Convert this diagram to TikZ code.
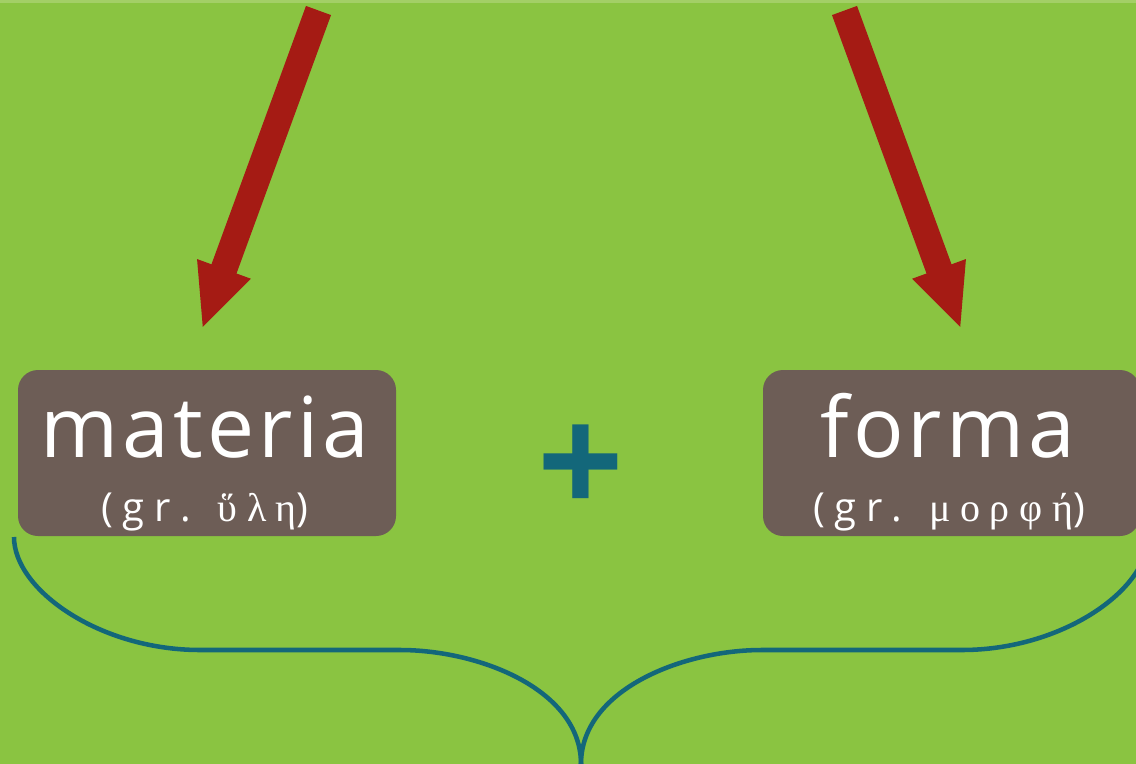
\documentclass[tikz,border=0pt]{standalone}
\usepackage{fontspec}
\setmainfont{Open Sans}
\newfontfamily\wordfont[LetterSpace=5]{Open Sans}
\newfontfamily\notefont[LetterSpace=24]{Open Sans}
\newfontfamily\greekfont[Script=Greek,LetterSpace=24]{Liberation Serif}
\usetikzlibrary{arrows.meta}

\definecolor{leaf}{HTML}{8AC441}
\definecolor{leaftop}{HTML}{A3CF66}
\definecolor{rust}{HTML}{A51B14}
\definecolor{bark}{HTML}{6D5D56}
\definecolor{petrol}{HTML}{13677A}

\begin{document}
\begin{tikzpicture}[x=0.75pt,y=-0.75pt,
 word box/.style={rectangle,rounded corners=15pt,fill=bark,inner sep=0pt,
  minimum width=283.5pt,minimum height=124.5pt},
 word/.style={text=white,inner sep=0pt,font=\wordfont\fontsize{63}{63}\selectfont},
 note/.style={text=white,inner sep=0pt,font=\notefont\fontsize{30}{30}\selectfont},
 plus sign/.style={text=petrol,inner sep=0pt,font=\bfseries\fontsize{114}{114}\selectfont},
 fat arrow/.style={draw=rust,line width=20pt,-{Triangle[length=48pt,width=39pt]}},
 brace line/.style={draw=petrol,line width=3.4pt}]

  \useasboundingbox (0,0) rectangle (1136,764);
  \fill[leaf] (0,0) rectangle (1136,764);
  \fill[leaftop] (0,0) rectangle (1136,3);

  % the two boxes
  \node[word box] (materia) at (207,453) {};
  \node[word box,minimum width=282.75pt] (forma) at (951.5,453) {};
  \node[word,anchor=base] (materia word) at (205,457) {materia};
  \node[note,anchor=base] (materia note) at (205,521) {(gr. {\greekfont ὕλη})};
  \node[word,anchor=base] (forma word) at (948,457) {forma};
  \node[note,anchor=base] (forma note) at (949,521) {(gr. {\greekfont μορφή})};

  \node[plus sign] (plus) at (581,470) {+};

  % arrows from above
  \coordinate (materia tail) at (318.5,10.5);
  \coordinate (materia tip) at (202,329);
  \coordinate (forma tail) at (844.5,10.5);
  \coordinate (forma tip) at (961,329);
  \draw[fat arrow] (materia tail) -- (materia tip);
  \draw[fat arrow] (forma tail) -- (forma tip);

  % brace under both
  \coordinate (brace left) at (14,537);
  \coordinate (brace right) at (1148,537);
  \coordinate (brace tip) at (581,764);
  \draw[brace line] (brace left) .. controls (14,590) and (100,650) .. (200,650)
    -- (400,650) .. controls (480,650) and (581,690) .. (brace tip);
  \draw[brace line] (brace right) .. controls (1148,590) and (1062,650) .. (962,650)
    -- (762,650) .. controls (682,650) and (581,690) .. (brace tip);
\end{tikzpicture}
\end{document}
